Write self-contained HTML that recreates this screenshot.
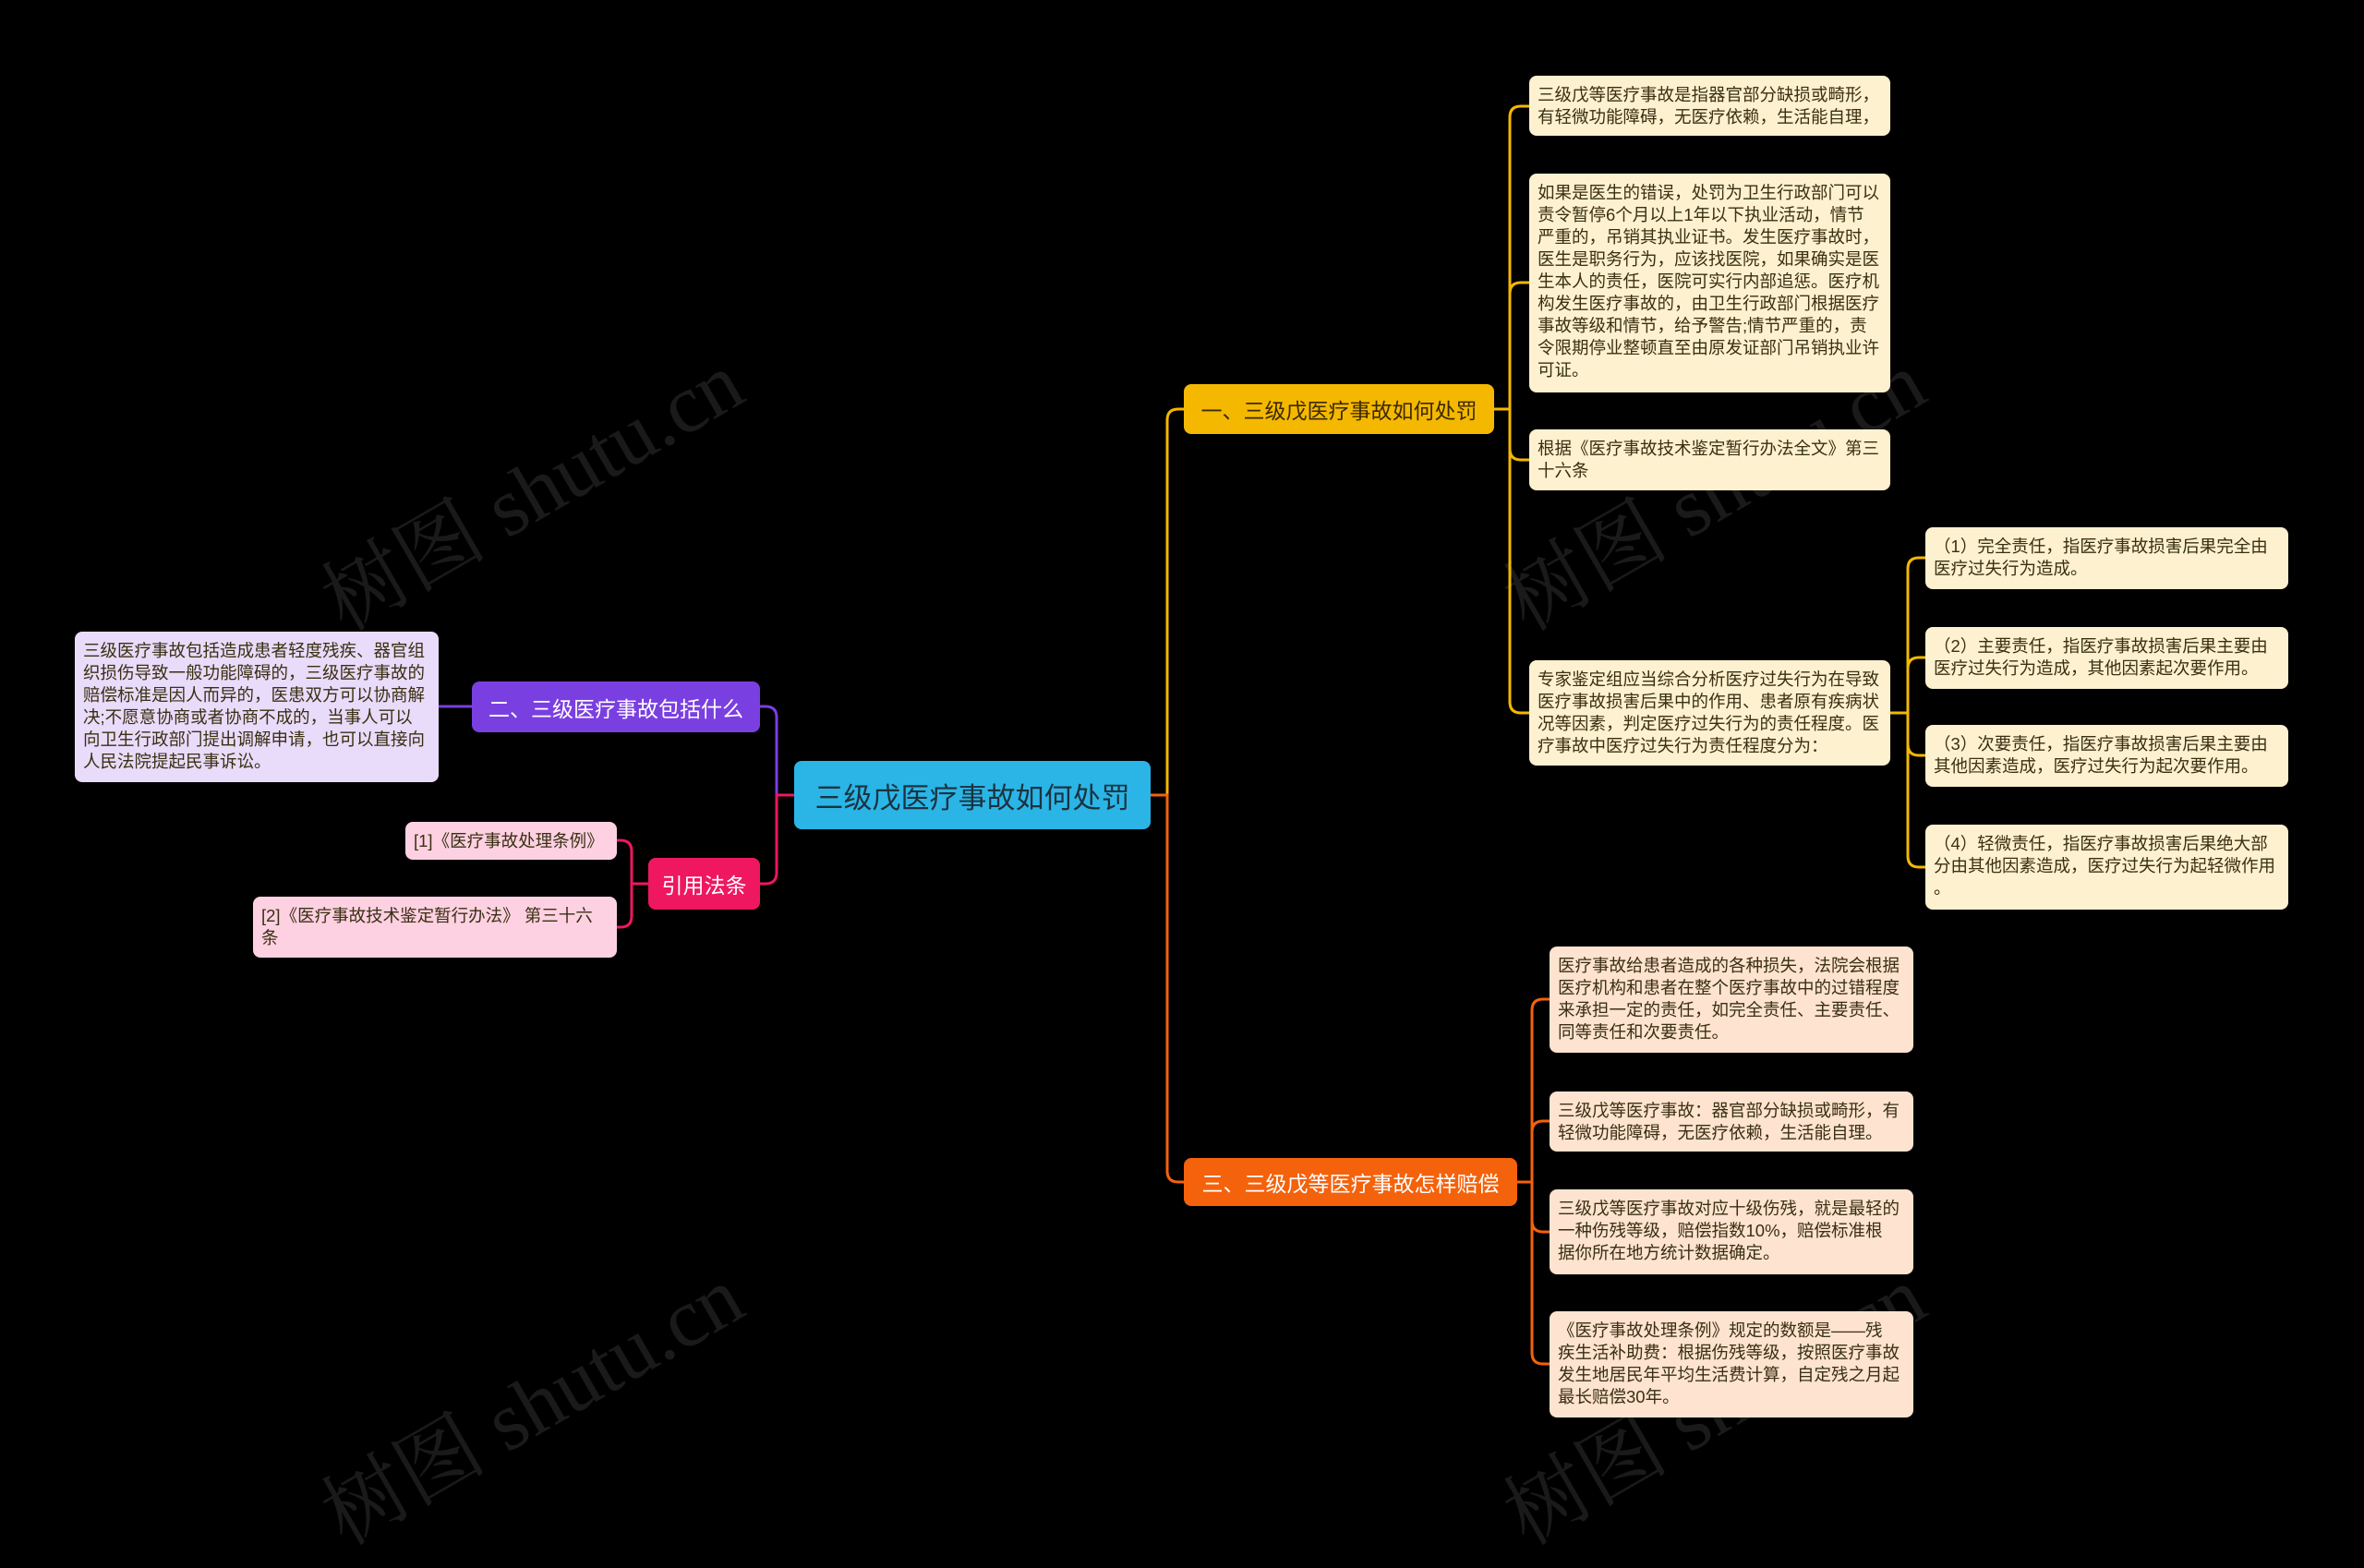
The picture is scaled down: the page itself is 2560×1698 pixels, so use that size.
<!DOCTYPE html>
<html><head><meta charset="utf-8"><style>
html,body{margin:0;padding:0;background:#000;}
body{width:2560px;height:1617px;position:relative;overflow:hidden;font-family:"Liberation Sans","Noto Sans CJK SC",sans-serif;}
.n{position:absolute;box-sizing:border-box;border-radius:8px;white-space:nowrap;}
.leaf{font-size:18.5px;line-height:24px;color:#3a2f12;padding:9px 9px;}
.y{background:#fdf1cf;}
.o{background:#fde3d0;}
.p{background:#e9dbfa;}
.k{background:#fdd1e2;}
.br{font-size:23px;color:#fff;display:flex;align-items:center;justify-content:center;}
.wm{position:absolute;font-size:90px;color:#1a1a1a;transform:rotate(-30deg);white-space:nowrap;font-family:"Liberation Serif","Noto Serif CJK SC",serif;}
svg{position:absolute;left:0;top:0;}
</style></head><body>
<div class="wm" style="left:320px;top:460px;">树图 shutu.cn</div>
<div class="wm" style="left:1600px;top:460px;">树图 shutu.cn</div>
<div class="wm" style="left:320px;top:1450px;">树图 shutu.cn</div>
<div class="wm" style="left:1600px;top:1450px;">树图 shutu.cn</div>
<svg id="s" width="2560" height="1617"></svg>

<div class="n br" style="left:860px;top:824px;width:386px;height:74px;background:#2bb5e6;color:#1b3340;font-size:31px;">三级戊医疗事故如何处罚</div>
<div class="n br" style="left:1282px;top:416px;width:336px;height:54px;background:#f5b800;color:#3a2a00;">一、三级戊医疗事故如何处罚</div>
<div class="n br" style="left:1282px;top:1254px;width:361px;height:52px;background:#f4620c;">三、三级戊等医疗事故怎样赔偿</div>
<div class="n br" style="left:511px;top:738px;width:312px;height:55px;background:#7a3fe0;">二、三级医疗事故包括什么</div>
<div class="n br" style="left:702px;top:929px;width:121px;height:56px;background:#ee1760;">引用法条</div>

<div class="n leaf p" style="left:81px;top:684px;width:394px;height:163px;">三级医疗事故包括造成患者轻度残疾、器官组<br>织损伤导致一般功能障碍的，三级医疗事故的<br>赔偿标准是因人而异的，医患双方可以协商解<br>决;不愿意协商或者协商不成的，当事人可以<br>向卫生行政部门提出调解申请，也可以直接向<br>人民法院提起民事诉讼。</div>
<div class="n leaf k" style="left:439px;top:890px;width:229px;height:41px;">[1]《医疗事故处理条例》</div>
<div class="n leaf k" style="left:274px;top:971px;width:394px;height:66px;">[2]《医疗事故技术鉴定暂行办法》 第三十六<br>条</div>

<div class="n leaf y" style="left:1656px;top:82px;width:391px;height:65px;">三级戊等医疗事故是指器官部分缺损或畸形，<br>有轻微功能障碍，无医疗依赖，生活能自理，</div>
<div class="n leaf y" style="left:1656px;top:188px;width:391px;height:237px;">如果是医生的错误，处罚为卫生行政部门可以<br>责令暂停6个月以上1年以下执业活动，情节<br>严重的，吊销其执业证书。发生医疗事故时，<br>医生是职务行为，应该找医院，如果确实是医<br>生本人的责任，医院可实行内部追惩。医疗机<br>构发生医疗事故的，由卫生行政部门根据医疗<br>事故等级和情节，给予警告;情节严重的，责<br>令限期停业整顿直至由原发证部门吊销执业许<br>可证。</div>
<div class="n leaf y" style="left:1656px;top:465px;width:391px;height:66px;">根据《医疗事故技术鉴定暂行办法全文》第三<br>十六条</div>
<div class="n leaf y" style="left:1656px;top:715px;width:391px;height:114px;">专家鉴定组应当综合分析医疗过失行为在导致<br>医疗事故损害后果中的作用、患者原有疾病状<br>况等因素，判定医疗过失行为的责任程度。医<br>疗事故中医疗过失行为责任程度分为：</div>
<div class="n leaf y" style="left:2085px;top:571px;width:393px;height:67px;">（1）完全责任，指医疗事故损害后果完全由<br>医疗过失行为造成。</div>
<div class="n leaf y" style="left:2085px;top:679px;width:393px;height:67px;">（2）主要责任，指医疗事故损害后果主要由<br>医疗过失行为造成，其他因素起次要作用。</div>
<div class="n leaf y" style="left:2085px;top:785px;width:393px;height:67px;">（3）次要责任，指医疗事故损害后果主要由<br>其他因素造成，医疗过失行为起次要作用。</div>
<div class="n leaf y" style="left:2085px;top:893px;width:393px;height:92px;">（4）轻微责任，指医疗事故损害后果绝大部<br>分由其他因素造成，医疗过失行为起轻微作用<br>。</div>

<div class="n leaf o" style="left:1678px;top:1025px;width:394px;height:115px;">医疗事故给患者造成的各种损失，法院会根据<br>医疗机构和患者在整个医疗事故中的过错程度<br>来承担一定的责任，如完全责任、主要责任、<br>同等责任和次要责任。</div>
<div class="n leaf o" style="left:1678px;top:1182px;width:394px;height:65px;">三级戊等医疗事故：器官部分缺损或畸形，有<br>轻微功能障碍，无医疗依赖，生活能自理。</div>
<div class="n leaf o" style="left:1678px;top:1288px;width:394px;height:92px;">三级戊等医疗事故对应十级伤残，就是最轻的<br>一种伤残等级，赔偿指数10%，赔偿标准根<br>据你所在地方统计数据确定。</div>
<div class="n leaf o" style="left:1678px;top:1420px;width:394px;height:115px;">《医疗事故处理条例》规定的数额是——残<br>疾生活补助费：根据伤残等级，按照医疗事故<br>发生地居民年平均生活费计算，自定残之月起<br>最长赔偿30年。</div>

<script>
var s=document.getElementById('s'),h='';
function c(px,py,tx,cx,cy,col){var r=12,d=cy-py,sg=d>0?1:-1,dir=cx>px?1:-1;
 if(Math.abs(d)<r){h+='<path d="M'+px+' '+py+' L'+tx+' '+py+' L'+tx+' '+cy+' L'+cx+' '+cy+'" stroke="'+col+'" stroke-width="3" fill="none"/>';return;}
 h+='<path d="M'+px+' '+py+' L'+tx+' '+py+' L'+tx+' '+(cy-sg*r)+' Q'+tx+' '+cy+' '+(tx+dir*r)+' '+cy+' L'+cx+' '+cy+'" stroke="'+col+'" stroke-width="3" fill="none"/>';}
var Y='#f5b800',O='#f4620c';
c(1246,861,1264,1282,443,Y);c(1246,861,1264,1282,1280,O);
c(860,861,841,823,765,'#7a3fe0');c(860,861,841,823,957,'#ee1760');
c(511,765,493,475,765,'#7a3fe0');
c(702,957,684,668,910,'#ee1760');c(702,957,684,668,1004,'#ee1760');
[115,306,498,772].forEach(function(y){c(1618,443,1635,1656,y,Y);});
[604,712,818,939].forEach(function(y){c(2047,772,2066,2085,y,Y);});
[1082,1214,1334,1477].forEach(function(y){c(1643,1280,1659,1678,y,O);});
s.innerHTML=h;
</script>
</body></html>
